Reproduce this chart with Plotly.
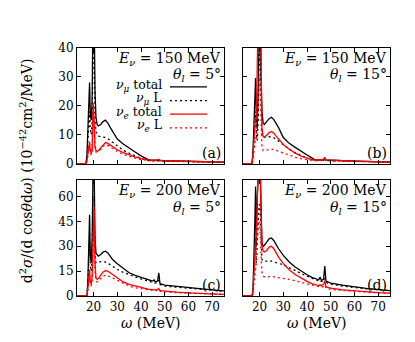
import plotly.graph_objects as go

W, H = 415, 342

# energy transfer grid (MeV)
omega = [13, 16.8, 17.2, 17.6, 18.0, 18.3, 18.6, 19.0, 19.4, 19.8, 20.2, 20.6, 21.0, 21.5, 22.0,
         23.0, 24.0, 25.0, 26.0, 27.0, 28.0, 30.0, 32.5, 35.0, 37.5, 40.0, 42.0, 43.0, 44.0, 45.0,
         45.5, 46.0, 47.0, 47.5, 48.0, 50.0, 55.0, 60.0, 65.0, 70.0, 75.0]

# (a) E=150 MeV, theta=5 deg
a_mu_tot = [0, 0, 3, 12, 18, 28, 17, 15, 22, 60, 55, 25, 16, 13.5, 13, 13.5, 14.5, 15, 14, 12.5, 11,
            8.5, 6.8, 5.3, 4, 2.7, 1.8, 1.4, 1.3, 1.2, 1.2, 1.2, 1.2, 1.3, 1.1, 1.0, 0.9, 0.8, 0.7, 0.6, 0.5]
a_mu_L = [0, 0, 2, 8, 12, 18, 12, 10, 15, 45, 40, 16, 11, 10, 9.5, 9.3, 9.2, 9, 8.6, 8, 7.3,
          6, 4.6, 3.6, 2.6, 1.8, 1.3, 1.1, 1.0, 1.0, 1.0, 1.0, 1.0, 1.05, 0.95, 0.9, 0.8, 0.7, 0.6, 0.55, 0.45]
a_e_tot = [0, 0, 1, 4, 5.5, 7.5, 4.5, 3.5, 5, 21, 15, 6, 4.5, 4.3, 4.5, 5.5, 6.7, 7.3, 7.0, 6.4, 5.8,
           4.8, 3.8, 3.0, 2.3, 1.7, 1.3, 1.2, 1.15, 1.1, 1.1, 1.15, 1.3, 1.5, 1.1, 1.0, 0.9, 0.8, 0.7, 0.6, 0.5]
a_e_L = [0, 0, 0.8, 3.5, 5, 7, 4, 3, 4.5, 18, 13, 5, 4, 4, 4.2, 5, 6, 6.5, 6.3, 5.8, 5.2,
         4.2, 3.2, 2.5, 1.9, 1.4, 1.1, 1.0, 1.0, 1.0, 1.0, 1.0, 1.1, 1.2, 1.0, 0.9, 0.8, 0.7, 0.6, 0.55, 0.45]

# (b) E=150 MeV, theta=15 deg
b_mu_tot = [0, 0, 4, 15, 22, 29.5, 18, 12, 25, 60, 60, 30, 18, 14, 13.5, 14.5, 15.5, 16, 15.2, 13.8, 12.4,
            9.0, 7.0, 5.6, 4.2, 3.0, 2.0, 1.5, 1.4, 1.3, 1.3, 1.3, 1.4, 1.8, 1.3, 1.2, 1.0, 0.9, 0.8, 0.65, 0.5]
b_mu_L = [0, 0, 2.5, 9, 13, 18, 11, 8, 15, 40, 40, 18, 10, 9, 9, 9.2, 9.3, 9.2, 8.9, 8.4, 7.8,
          6.4, 5.0, 3.8, 2.8, 1.9, 1.4, 1.2, 1.1, 1.1, 1.1, 1.1, 1.15, 1.3, 1.1, 1.0, 0.9, 0.8, 0.7, 0.6, 0.5]
b_e_tot = [0, 0, 3, 8, 12, 16, 15, 30, 55, 70, 65, 25, 12, 9.5, 9.2, 9.8, 10.7, 11.1, 10.5, 9.5, 8.5,
           6.6, 5.0, 3.6, 2.6, 1.8, 1.4, 1.3, 1.3, 1.3, 1.3, 1.35, 1.6, 2.1, 1.3, 1.2, 1.0, 0.9, 0.8, 0.65, 0.5]
b_e_L = [0, 0, 1.5, 5, 7, 9, 8, 15, 22, 30, 25, 10, 5.5, 4.5, 4.5, 4.7, 4.9, 5.0, 4.9, 4.6, 4.3,
         3.6, 2.8, 2.2, 1.7, 1.3, 1.1, 1.0, 1.0, 1.0, 1.0, 1.05, 1.2, 1.4, 1.0, 0.95, 0.85, 0.75, 0.65, 0.55, 0.45]

# (c) E=200 MeV, theta=5 deg
c_mu_tot = [0, 0, 0, 10, 30, 49, 25, 20, 35, 80, 80, 35, 26, 24.5, 24, 25, 26.5, 27, 26, 24, 22,
            19.5, 16.5, 14, 12.5, 11.5, 10.5, 10, 9.5, 9.0, 9.8, 8.5, 9, 14, 7.5, 6.5, 5.7, 5.0, 4.3, 3.7, 3.1]
c_mu_L = [0, 0, 0, 7, 20, 33, 18, 15, 25, 60, 60, 25, 20, 20, 20.3, 20.7, 20.8, 20.5, 19.8, 18.8, 17.8,
          16, 14.3, 12.8, 11.5, 10.3, 9.4, 8.9, 8.5, 8.1, 8.2, 7.8, 8.0, 9.5, 7.0, 6.0, 5.3, 4.6, 4.0, 3.4, 2.9]
c_e_tot = [0, 0, 0, 5, 10, 16, 9, 7, 12, 30, 54, 20, 11, 10, 10.5, 12.5, 14.5, 15.3, 15, 14, 13,
           10.5, 8.5, 7.0, 6.0, 5.1, 4.5, 4.2, 4.0, 3.8, 3.9, 3.7, 3.9, 4.5, 3.3, 2.9, 2.3, 1.9, 1.5, 1.2, 1.0]
c_e_L = [0, 0, 0, 4, 8, 12, 7, 6, 10, 25, 42, 15, 9, 8.5, 9, 10.5, 12, 12.5, 12.3, 11.6, 10.8,
         9.0, 7.3, 6.0, 5.0, 4.3, 3.8, 3.5, 3.3, 3.1, 3.2, 3.1, 3.3, 3.8, 2.9, 2.6, 2.0, 1.7, 1.4, 1.1, 0.9]

# (d) E=200 MeV, theta=15 deg
d_mu_tot = [0, 0, 3, 20, 45, 66, 30, 60, 80, 80, 80, 45, 32, 30, 30.5, 32.5, 34.5, 35, 33.5, 31, 28.5,
            24.5, 20.5, 17.5, 15, 12.8, 11.2, 10.6, 10.2, 9.8, 11.5, 9.5, 10, 18, 9, 7.8, 6.5, 5.4, 4.6, 3.9, 3.3]
d_mu_L = [0, 0, 2, 12, 25, 35, 20, 35, 50, 55, 55, 30, 22, 21, 21, 21.3, 21.3, 21, 20.6, 20.2, 19.8,
          18.8, 17, 15.5, 13.5, 12, 10.8, 10.2, 9.6, 9.0, 9.4, 8.8, 9.0, 10.5, 8.2, 7.2, 6.0, 5.0, 4.3, 3.8, 3.2]
d_e_tot = [0, 0, 3, 15, 25, 30, 35, 60, 80, 80, 80, 50, 30, 27, 26.5, 27.5, 29.5, 30, 28.5, 26, 23.5,
           19.5, 15.8, 13, 10.8, 8.8, 7.5, 7.0, 6.6, 6.3, 6.8, 6.2, 7, 9.3, 5.5, 4.8, 3.7, 3.0, 2.4, 2.0, 1.7]
d_e_L = [0, 0, 2, 8, 14, 18, 20, 35, 45, 45, 40, 25, 14, 12, 11.5, 11.5, 11.7, 11.7, 11.6, 11.4, 11.2,
         10.8, 10, 9.2, 8.2, 7.3, 6.6, 6.2, 5.9, 5.6, 5.8, 5.4, 5.6, 6.5, 4.6, 4.0, 3.4, 2.8, 2.3, 1.9, 1.6]

panels = [
    ("a", a_mu_tot, a_mu_L, a_e_tot, a_e_L, "150", "5"),
    ("b", b_mu_tot, b_mu_L, b_e_tot, b_e_L, "150", "15"),
    ("c", c_mu_tot, c_mu_L, c_e_tot, c_e_L, "200", "5"),
    ("d", d_mu_tot, d_mu_L, d_e_tot, d_e_L, "200", "15"),
]

y_ranges = {"a": [0, 40], "b": [0, 40], "c": [0, 70], "d": [0, 70]}
y_ticks = {"a": [0, 10, 20, 30, 40], "b": [0, 10, 20, 30, 40],
           "c": [0, 15, 30, 45, 60], "d": [0, 15, 30, 45, 60]}
x_ticks = [20, 30, 40, 50, 60, 70]

# pixel boxes (left, right, top, bottom)
boxes = {"a": (69, 216, 34, 155), "b": (235, 382, 34, 155),
         "c": (69, 216, 172, 293), "d": (235, 382, 172, 293)}

def px(x):
    return x / W

def py(y):
    return 1 - y / H

FONT = "DejaVu Serif"
DOT = "2px,3px"
TXT = 14

fig = go.Figure()
annotations = []
shapes = []
layout = {}

for i, (lab, mt, ml, et, el, E, th) in enumerate(panels):
    n = "" if i == 0 else str(i + 1)
    xa, ya = "x" + n, "y" + n
    styles = [(mt, "black", "solid"), (ml, "black", DOT), (et, "red", "solid"), (el, "red", DOT)]
    for vals, col, dash in styles:
        fig.add_trace(go.Scatter(x=omega, y=vals, mode="lines", xaxis=xa, yaxis=ya,
                                 line=dict(color=col, width=1.3, dash=dash), showlegend=False))
    l, r, t, b = boxes[lab]
    bottom_row = lab in ("c", "d")
    left_col = lab in ("a", "c")
    layout["xaxis" + n] = dict(domain=[px(l), px(r)], anchor=ya, range=[13, 75],
                               tickvals=x_ticks, showticklabels=bottom_row,
                               ticks="inside", ticklen=4, tickcolor="black",
                               showline=True, linecolor="black", linewidth=1, mirror="ticks",
                               showgrid=False, zeroline=False,
                               tickfont=dict(family=FONT, size=12, color="black"))
    layout["yaxis" + n] = dict(domain=[py(b), py(t)], anchor=xa, range=y_ranges[lab],
                               tickvals=y_ticks[lab], showticklabels=left_col,
                               ticks="inside", ticklen=4, tickcolor="black",
                               showline=True, linecolor="black", linewidth=1, mirror="ticks",
                               showgrid=False, zeroline=False,
                               tickfont=dict(family=FONT, size=12, color="black"))
    # panel texts
    annotations.append(dict(xref="paper", yref="paper", x=px(r - 1), y=py(t + 12),
                            xanchor="right", yanchor="middle", showarrow=False,
                            text="<i>E</i><sub><i>ν</i></sub> = " + E + " MeV",
                            font=dict(family=FONT, size=TXT, color="black")))
    annotations.append(dict(xref="paper", yref="paper", x=px(r - 1), y=py(t + 29),
                            xanchor="right", yanchor="middle", showarrow=False,
                            text="<i>θ</i><sub><i>l</i></sub> = " + th + "°",
                            font=dict(family=FONT, size=TXT, color="black")))
    annotations.append(dict(xref="paper", yref="paper", x=px(r - 1), y=py(b - 11),
                            xanchor="right", yanchor="middle", showarrow=False,
                            text="(" + lab + ")",
                            font=dict(family=FONT, size=TXT, color="black")))
    if bottom_row:
        annotations.append(dict(xref="paper", yref="paper", x=px((l + r) / 2), y=py(321),
                                xanchor="center", yanchor="middle", showarrow=False,
                                text="<i>ω</i> (MeV)",
                                font=dict(family=FONT, size=TXT, color="black")))

# legend in panel (a)
legend_items = [("<i>ν</i><sub><i>μ</i></sub> total", "black", "solid"),
                ("<i>ν</i><sub><i>μ</i></sub> L", "black", DOT),
                ("<i>ν</i><sub><i>e</i></sub> total", "red", "solid"),
                ("<i>ν</i><sub><i>e</i></sub> L", "red", DOT)]
for k, (txt, col, dash) in enumerate(legend_items):
    yy = 74 + k * 14.2
    annotations.append(dict(xref="paper", yref="paper", x=px(156), y=py(yy - 1),
                            xanchor="right", yanchor="middle", showarrow=False, text=txt,
                            font=dict(family=FONT, size=12.5, color="black")))
    shapes.append(dict(type="line", xref="paper", yref="paper", x0=px(162), x1=px(199),
                       y0=py(yy + 1), y1=py(yy + 1), line=dict(color=col, width=1.3, dash=dash)))

# shared y label
annotations.append(dict(xref="paper", yref="paper", x=px(18), y=py(163),
                        xanchor="center", yanchor="middle", showarrow=False, textangle=-90,
                        text="d<sup>2</sup><i>σ</i>/(d cos<i>θ</i>d<i>ω</i>) (10<sup>−42</sup>cm<sup>2</sup>/MeV)",
                        font=dict(family=FONT, size=14, color="black")))

fig.update_layout(width=W, height=H, margin=dict(l=0, r=0, t=0, b=0),
                  paper_bgcolor="white", plot_bgcolor="white",
                  annotations=annotations, shapes=shapes, showlegend=False, **layout)

fig.write_html("out.html")
